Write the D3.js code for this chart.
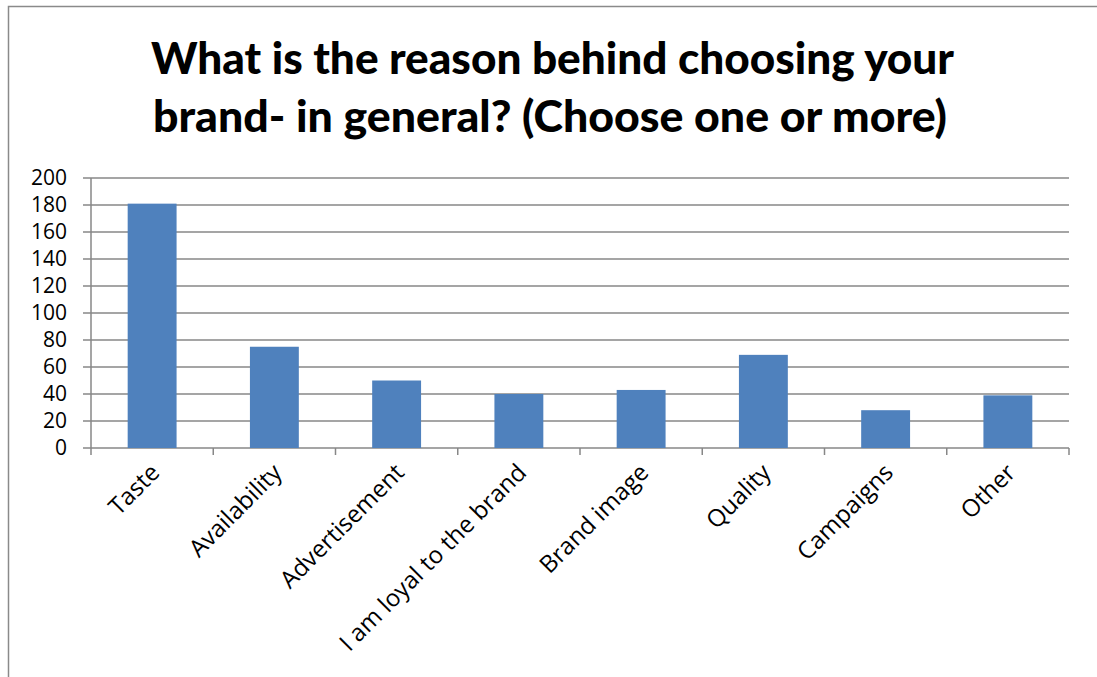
<!DOCTYPE html>
<html>
<head>
<meta charset="utf-8">
<script src="https://cdn.jsdelivr.net/npm/d3@7"></script>
<style>
  body { margin: 0; background: #fff; }
  svg { display: block; }
</style>
</head>
<body>
<div id="chart"></div>
<script>
// data
const categories = ['Taste', 'Availability', 'Advertisement', 'I am loyal to the brand',
    'Brand image', 'Quality', 'Campaigns', 'Other'];
const values = [181, 75, 50, 40, 43, 69, 28, 39];
const yTicks = [0, 20, 40, 60, 80, 100, 120, 140, 160, 180, 200];
const titleLines = ['What is the reason behind choosing your',
    'brand- in general? (Choose one or more)'];

const width = 1097;
const height = 677;
const margin = { top: 178, left: 91, right: 1097 - 1069, bottom: 677 - 448 };
const w = width - margin.left - margin.right;
const h = height - margin.top - margin.bottom;

const svg = d3.select('#chart').append('svg')
    .attr('width', width)
    .attr('height', height);

// outer chart border (runs off the right/bottom of the picture)
svg.append('rect')
    .attr('x', 8.5).attr('y', 6.5)
    .attr('width', 1200).attr('height', 800)
    .attr('fill', 'none')
    .attr('stroke', '#8a8a8a')
    .attr('stroke-width', 1.5);

// title
const titleWidths = [803, 794];
svg.append('g').selectAll('text')
    .data(titleLines)
    .join('text')
    .attr('x', (d, i) => i === 0 ? 552.5 : 550)
    .attr('y', (d, i) => 74 + i * 58)
    .attr('text-anchor', 'middle')
    .attr('textLength', (d, i) => titleWidths[i])
    .attr('lengthAdjust', 'spacingAndGlyphs')
    .style('font-family', 'Lato, "Open Sans", sans-serif')
    .style('font-weight', 900)
    .style('font-size', '44px')
    .style('fill', '#000')
    .text(d => d);

const g = svg.append('g').attr('transform', `translate(${margin.left},${margin.top})`);

const x = d3.scaleBand()
    .domain(categories)
    .range([0, w])
    .paddingInner(0.6)
    .paddingOuter(0.3);

const y = d3.scaleLinear()
    .domain([0, 200])
    .range([h, 0]);

const gridColor = '#878787';

// gridlines + left ticks
g.append('g').selectAll('line')
    .data(yTicks)
    .join('line')
    .attr('x1', -8).attr('x2', w)
    .attr('y1', d => y(d)).attr('y2', d => y(d))
    .attr('stroke', gridColor)
    .attr('stroke-width', 1.5);

// bars
g.append('g').selectAll('rect')
    .data(values)
    .join('rect')
    .attr('x', (d, i) => x(categories[i]))
    .attr('y', d => y(d))
    .attr('width', x.bandwidth())
    .attr('height', d => h - y(d))
    .attr('fill', '#4F81BD');

// y axis line
g.append('line')
    .attr('x1', 0).attr('x2', 0)
    .attr('y1', 0).attr('y2', h)
    .attr('stroke', gridColor)
    .attr('stroke-width', 1.5);

// category boundary ticks under the baseline
const edges = d3.range(categories.length + 1).map(i => i * x.step());
g.append('g').selectAll('line')
    .data(edges)
    .join('line')
    .attr('x1', d => d).attr('x2', d => d)
    .attr('y1', h).attr('y2', h + 7)
    .attr('stroke', gridColor)
    .attr('stroke-width', 1.5);

// y tick labels
const yAxis = d3.axisLeft(y).tickValues(yTicks).tickSize(0).tickPadding(24);
g.append('g')
    .call(yAxis)
    .call(s => s.select('.domain').remove())
    .selectAll('text')
    .attr('font-family', '"Open Sans", sans-serif')
    .attr('font-size', 21)
    .attr('fill', '#000');

// category labels, rotated
g.append('g').selectAll('text')
    .data(categories)
    .join('text')
    .attr('text-anchor', 'end')
    .attr('transform', d => `translate(${x(d) + x.bandwidth() / 2 + 9},${h + 26}) rotate(-45)`)
    .style('font-family', '"Open Sans", sans-serif')
    .style('font-size', '24px')
    .style('fill', '#000')
    .text(d => d);
</script>
</body>
</html>
